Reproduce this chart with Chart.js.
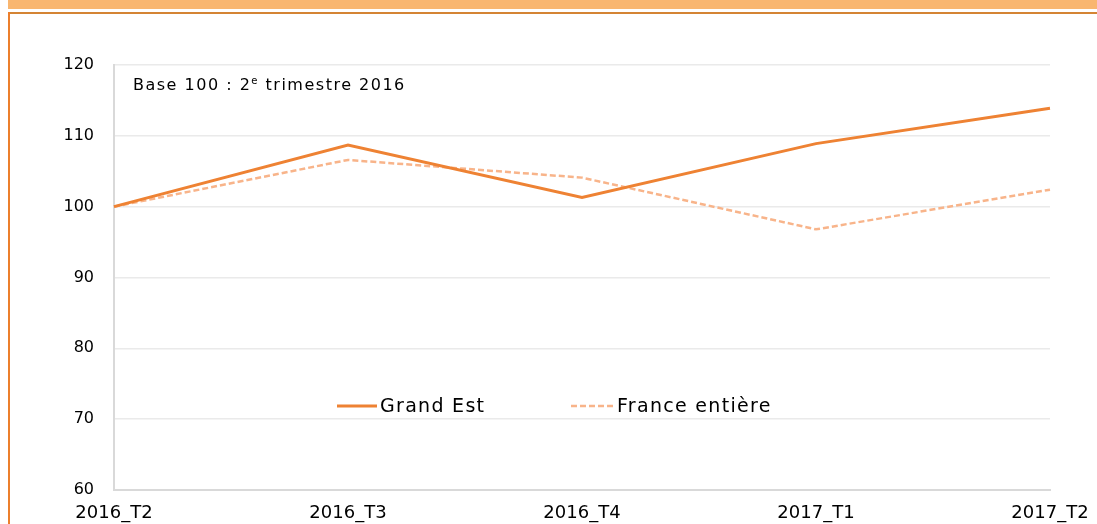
<!DOCTYPE html>
<html><head><meta charset="utf-8">
<script src="https://cdn.jsdelivr.net/npm/chart.js@4.4.1/dist/chart.umd.min.js"></script>
<style>
html,body{margin:0;padding:0;background:#fff;}
#wrap{position:relative;width:1097px;height:524px;overflow:hidden;}
#band{position:absolute;left:8px;top:0;width:1089px;height:9px;background:#F9B670;}
#topline{position:absolute;left:8px;top:12px;width:1089px;height:2px;background:#D48434;}
#leftline{position:absolute;left:8px;top:12px;width:2px;height:512px;background:#EC7F2C;}
canvas{position:absolute;left:0;top:0;}
</style></head>
<body><div id="wrap">
<canvas id="c" width="1097" height="524"></canvas>
<div id="band"></div><div id="topline"></div><div id="leftline"></div>
</div>
<script>
const categories = ["2016_T2","2016_T3","2016_T4","2017_T1","2017_T2"];
const grandEst = [100, 108.7, 101.3, 108.9, 113.9];
const franceEntiere = [100, 106.6, 104.1, 96.8, 102.4];
const seriesNames = ["Grand Est","France entière"];
const yTicks = [60,70,80,90,100,110,120];

const FONT = "'DejaVu Sans', sans-serif";

const notePlugin = {
  id:'note',
  afterDatasetsDraw(chart){
    const ctx = chart.ctx;
    ctx.save();
    ctx.fillStyle = '#000';
    ctx.textBaseline = 'alphabetic';
    ctx.textAlign = 'left';
    try { ctx.letterSpacing = '1.5px'; } catch(e){}
    let x = 133, y = 90;
    ctx.font = "16px " + FONT;
    const p1 = "Base 100 : 2";
    ctx.fillText(p1, x, y); x += ctx.measureText(p1).width;
    ctx.font = "10px " + FONT;
    ctx.fillText("e", x, y - 6); x += ctx.measureText("e").width;
    ctx.font = "16px " + FONT;
    ctx.fillText(" trimestre 2016", x, y);
    // legend
    const ly = 406;
    const items = [
      {ds: chart.data.datasets[0], x0: 337, x1: 377, tx: 380},
      {ds: chart.data.datasets[1], x0: 571, x1: 613, tx: 617}
    ];
    ctx.font = "19px " + FONT;
    ctx.textBaseline = 'middle';
    try { ctx.letterSpacing = '1.3px'; } catch(e){}
    items.forEach(it=>{
      ctx.beginPath();
      ctx.strokeStyle = it.ds.borderColor;
      ctx.lineWidth = it.ds.borderWidth;
      ctx.setLineDash(it.ds.borderDash || []);
      ctx.moveTo(it.x0, ly); ctx.lineTo(it.x1, ly); ctx.stroke();
      ctx.setLineDash([]);
      ctx.fillStyle = '#000';
      ctx.fillText(it.ds.label, it.tx, ly + 1);
    });
    ctx.restore();
  }
};

new Chart(document.getElementById('c'), {
  type:'line',
  data:{
    labels: categories,
    datasets:[
      {label: seriesNames[0], data: grandEst, borderColor:'#EE8233', borderWidth:3, pointRadius:0, tension:0, fill:false},
      {label: seriesNames[1], data: franceEntiere, borderColor:'#F8B48A', borderWidth:2.5, borderDash:[6,3], pointRadius:0, tension:0, fill:false}
    ]
  },
  options:{
    responsive:false, animation:false,
    layout:{padding:{left:0,right:47,top:65,bottom:0}},
    plugins:{legend:{display:false}, tooltip:{enabled:false}},
    scales:{
      x:{
        offset:false,
        grid:{display:false, drawTicks:false},
        border:{display:true, color:'#D9D9D9', width:2},
        ticks:{font:{family:FONT,size:18}, color:'#000', padding:13, maxRotation:0, autoSkip:false},
        afterFit(s){ s.height = 34; s.paddingRight = 0; s.paddingLeft = 0; }
      },
      y:{
        min:60, max:120,
        afterBuildTicks(s){ s.ticks = yTicks.map(v=>({value:v})); },
        grid:{color:'#EAEAEA', lineWidth:1.5, drawTicks:false},
        border:{display:true, color:'#D9D9D9', width:2},
        ticks:{font:{family:FONT,size:16}, color:'#000', padding:20},
        afterFit(s){ s.width = 114; s.paddingTop = 0; s.paddingBottom = 0; }
      }
    }
  },
  plugins:[notePlugin]
});
</script>
</body></html>
